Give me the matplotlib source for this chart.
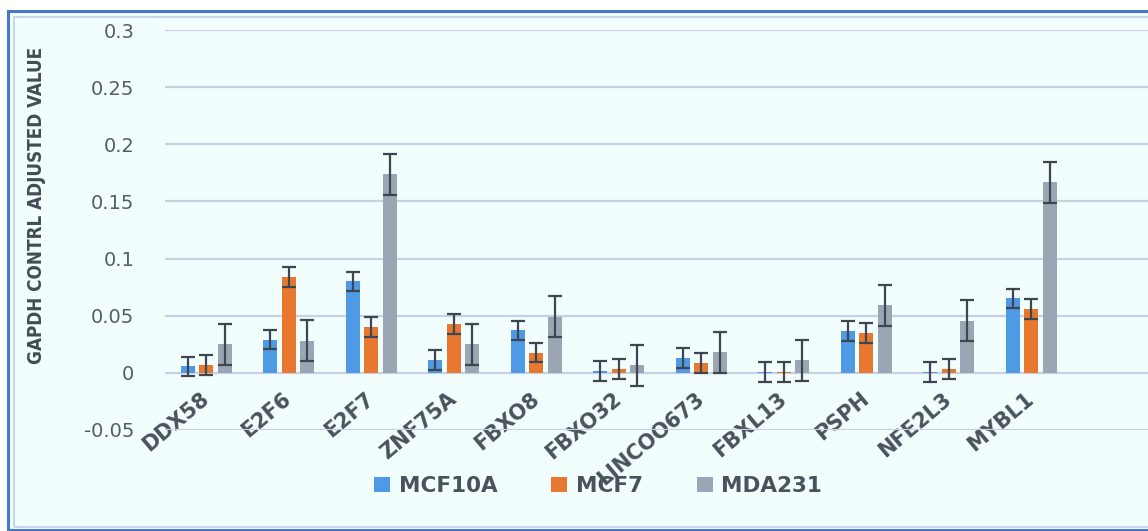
import numpy as np
import matplotlib
matplotlib.use("Agg")
import matplotlib.pyplot as plt
from matplotlib.patches import Rectangle
from matplotlib import font_manager

# ---------------------------
# DONNEES
# ---------------------------
genes = ["DDX58", "E2F6", "E2F7", "ZNF75A", "FBXO8", "FBXO32",
         "LINCOO673", "FBXL13", "PSPH", "NFE2L3", "MYBL1"]

mcf10a = [0.0055, 0.029, 0.080, 0.011, 0.037, 0.0015, 0.0128, 0.0005, 0.0367, 0.0005, 0.065]
mcf7 = [0.0067, 0.084, 0.040, 0.0426, 0.0175, 0.0032, 0.0085, 0.0005, 0.0347, 0.0032, 0.0557]
mda231 = [0.025, 0.028, 0.174, 0.0248, 0.049, 0.0064, 0.0178, 0.011, 0.059, 0.0455, 0.1668]

err_mcf10a = [0.0085] * len(genes)
err_mcf7 = [0.0085] * len(genes)
err_mda231 = [0.018] * len(genes)

series = ["MCF10A", "MCF7", "MDA231"]
colors = ["#4e9ae4", "#e8782f", "#9ba5b3"]

# police étroite pour le titre de l'axe y (si dispo)
noms = {f.name for f in font_manager.fontManager.ttflist}
if "Liberation Sans Narrow" in noms:
    ylab_font = dict(family="Liberation Sans Narrow", fontsize=15.5)
else:
    ylab_font = dict(family="DejaVu Sans", fontstretch="condensed", fontsize=13.5)

# ---------------------------
# FIGURE
# ---------------------------
fig = plt.figure(figsize=(11.48, 5.31), dpi=100, facecolor="white")

# cadre bleu autour du graphique
fig.patches.append(Rectangle((8 / 1148, 1 / 531), 1.1, (519 / 531),
                             transform=fig.transFigure, facecolor="#f2fdfd",
                             edgecolor="#4a78c8", linewidth=2.2, zorder=-2))
fig.patches.append(Rectangle((14 / 1148, 4 / 531), 1.1, (510 / 531),
                             transform=fig.transFigure, facecolor="none",
                             edgecolor="#c9d5ea", linewidth=1.5, zorder=-1))

ax = fig.add_axes([165 / 1148, 1 - 430 / 531, 1 - 165 / 1148, 400 / 531])
ax.set_facecolor("none")

x = np.arange(len(genes))
w = 0.17
off = 0.222
for k, (vals, errs) in enumerate([(mcf10a, err_mcf10a), (mcf7, err_mcf7), (mda231, err_mda231)]):
    ax.bar(x + (k - 1) * off, vals, width=w, color=colors[k], label=series[k], zorder=2)
    ax.errorbar(x + (k - 1) * off, vals, yerr=errs, fmt="none", ecolor="#3e4651",
                elinewidth=1.6, capsize=5, capthick=1.6, zorder=3)

ax.set_ylim(-0.0502, 0.3002)
ax.set_xlim(-0.5, (1148 - 165) / 82.5 - 0.5)
ax.set_yticks([-0.05, 0, 0.05, 0.1, 0.15, 0.2, 0.25, 0.3])
ax.set_yticklabels(["-0.05", "0", "0.05", "0.1", "0.15", "0.2", "0.25", "0.3"])
ax.grid(axis="y", color="#c9d0e6", linewidth=1.6, zorder=1)
ax.set_axisbelow(True)
for s in ax.spines.values():
    s.set_visible(False)
ax.spines["bottom"].set_position(("data", 0))

ax.tick_params(axis="y", length=0, pad=22, labelsize=14, labelcolor="#555d66")
ax.tick_params(axis="x", length=0, pad=17, labelsize=15, labelcolor="#4a525c")
ax.set_xticks(x)
ax.set_xticklabels(genes, rotation=40, ha="right", va="center",
                   rotation_mode="anchor", fontweight="bold")

ax.set_ylabel("GAPDH CONTRL ADJUSTED VALUE", fontweight="bold",
              color="#434b55", **ylab_font)
ax.yaxis.set_label_coords(-0.121, 0.5625)

leg = fig.legend(loc="center", bbox_to_anchor=(598 / 1148, 1 - 486 / 531), ncol=3,
                 frameon=False, handlelength=0.75, handleheight=0.75,
                 handletextpad=0.4, columnspacing=2.5,
                 prop={"weight": "bold", "size": 15.5})
for t in leg.get_texts():
    t.set_color("#4a525c")

plt.savefig("out.png", dpi=100)
